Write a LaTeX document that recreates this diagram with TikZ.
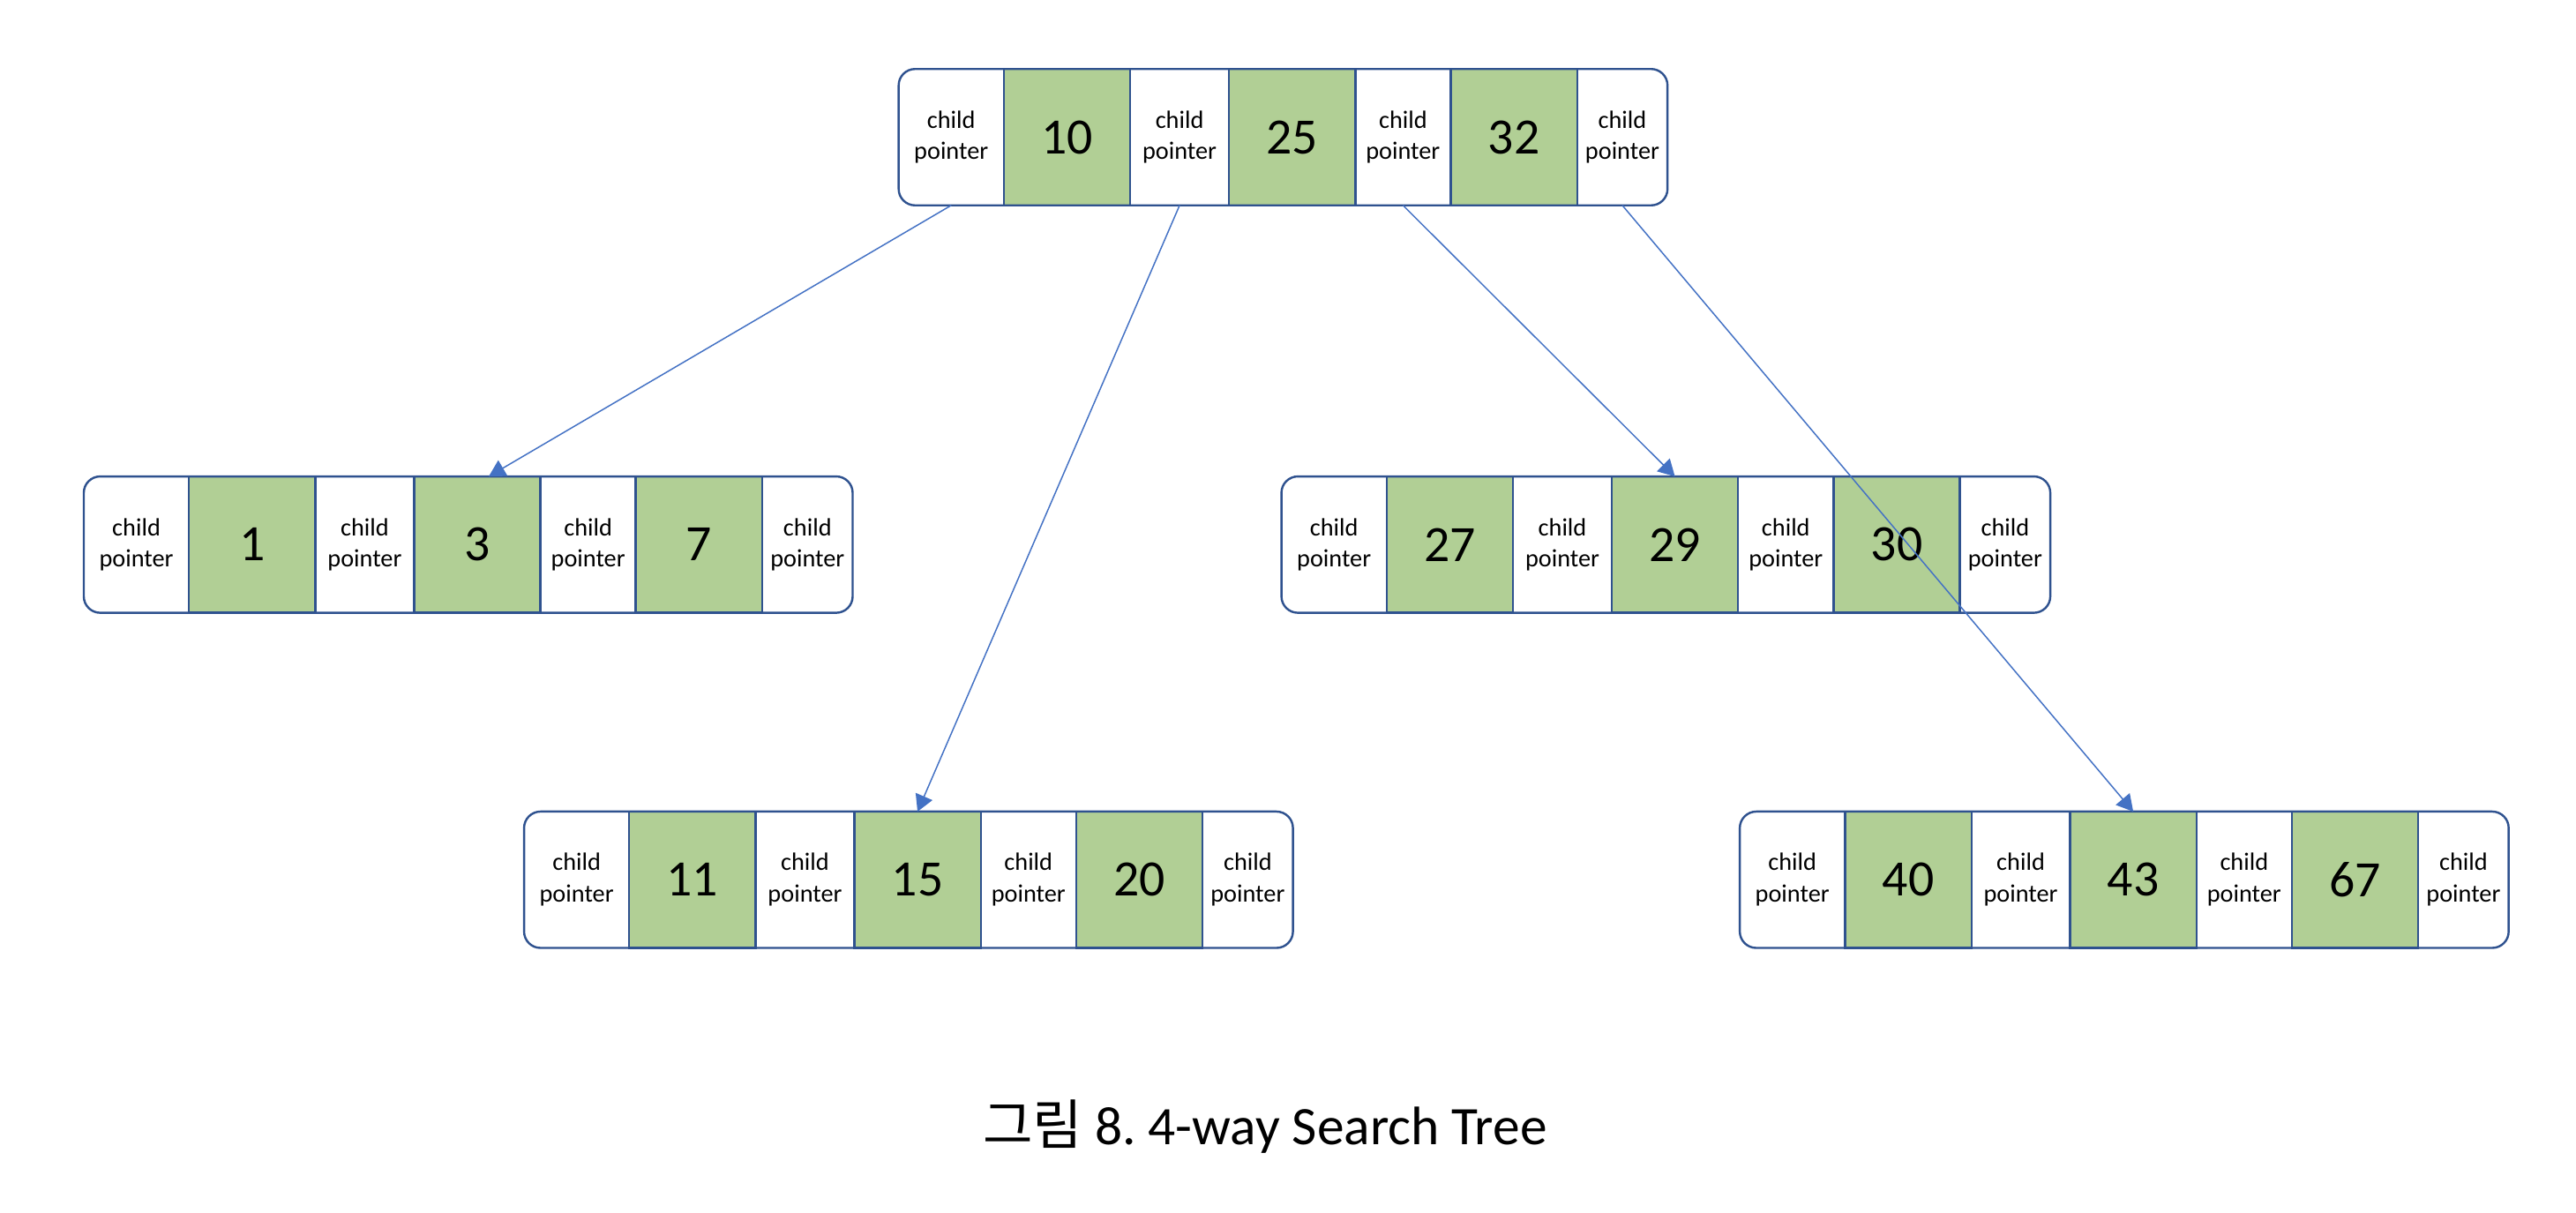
\documentclass[tikz,border=0pt]{standalone}
\usepackage{fontspec}
\setmainfont{Carlito}
\newfontfamily\krfont{Noto Sans CJK KR}
\usetikzlibrary{fit,arrows.meta}
\definecolor{bord}{HTML}{2F528F}
\definecolor{keyfill}{HTML}{B1CF95}
\definecolor{arrc}{HTML}{4472C4}
\tikzset{
  ptrcell/.style={minimum height=41.5pt, inner sep=0pt, outer sep=0pt, align=center,
    font=\fontsize{7.6}{9.6}\selectfont},
  keycell/.style={minimum height=41.5pt, minimum width=38.5pt, inner sep=0pt, outer sep=0pt,
    draw=bord, line width=0.65pt, fill=keyfill, font=\fontsize{15.5}{18}\selectfont},
  outline/.style={inner sep=0pt, outer sep=0pt, draw=bord, line width=0.65pt, rounded corners=5pt},
  link/.style={draw=arrc, line width=0.4pt, -{Triangle[width=5.5pt,length=5pt]}},
}
\newcommand\tnode[6]{%
  \node[ptrcell, minimum width=32pt, anchor=north west] (#1-p1) at (#2,#3) {child\\pointer};
  \node[keycell, anchor=west] (#1-k1) at (#1-p1.east) {#4};
  \node[ptrcell, minimum width=30pt, anchor=west] (#1-p2) at (#1-k1.east) {child\\pointer};
  \node[keycell, anchor=west] (#1-k2) at (#1-p2.east) {#5};
  \node[ptrcell, minimum width=29pt, anchor=west] (#1-p3) at (#1-k2.east) {child\\pointer};
  \node[keycell, anchor=west] (#1-k3) at (#1-p3.east) {#6};
  \node[ptrcell, minimum width=27.5pt, anchor=west] (#1-p4) at (#1-k3.east) {child\\pointer};
  \node[outline, fit=(#1-p1)(#1-p4)] (#1) {};
}
\begin{document}
\begin{tikzpicture}[x=0.5pt,y=-0.5pt]
\useasboundingbox (0,0) rectangle (1568,738);
\tnode{root}{547}{42}{10}{25}{32}
\tnode{na}{51}{290}{1}{3}{7}
\tnode{nc}{780}{290}{27}{29}{30}
\tnode{nb}{319}{494}{11}{15}{20}
\tnode{nd}{1059}{494}{40}{43}{67}
\draw[link] (root-p1.south) -- ([xshift=3.5pt]na-k2.north);
\draw[link] (root-p2.south) -- (nb-k2.north);
\draw[link] (root-p3.south) -- (nc-k2.north);
\draw[link] (root-p4.south) -- (nd-k2.north);
\node[anchor=base, font=\fontsize{16.5}{20}\selectfont] (cap) at (770,697)
  {{\krfont 그림} 8.\ 4-way Search Tree};
\end{tikzpicture}
\end{document}
